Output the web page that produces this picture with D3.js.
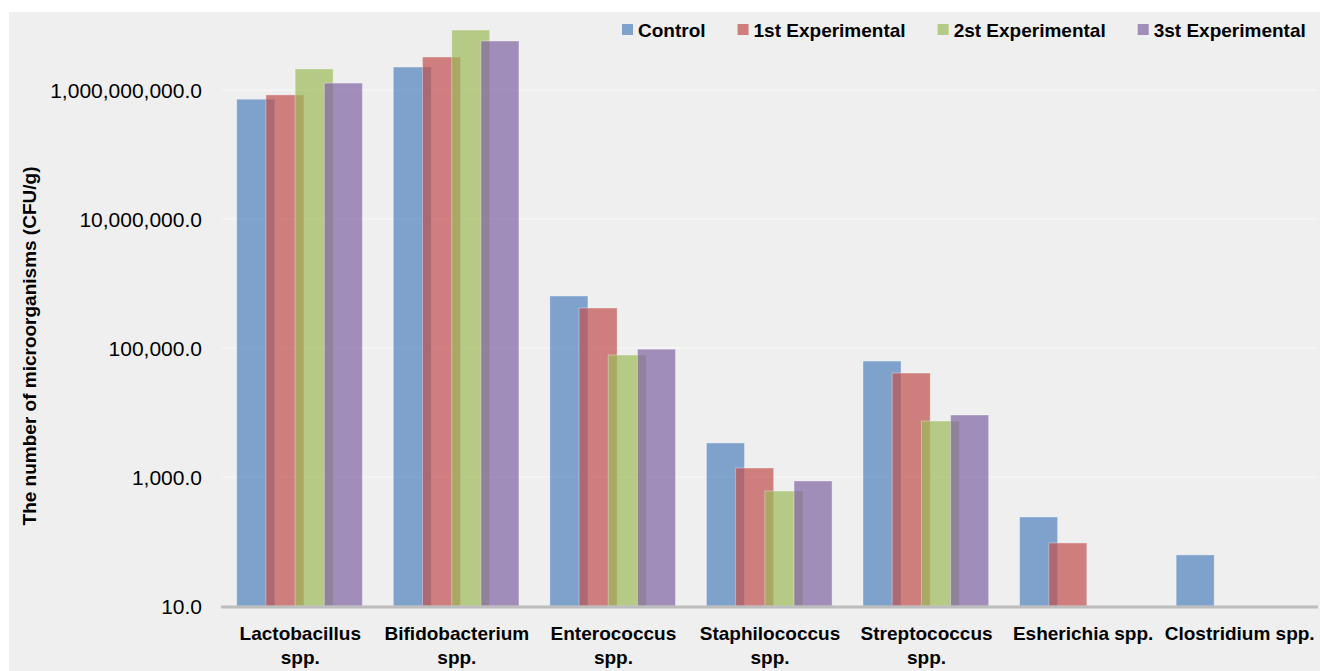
<!DOCTYPE html>
<html>
<head>
<meta charset="utf-8">
<script src="https://cdn.jsdelivr.net/npm/d3@7"></script>
<style>
  body { margin: 0; background: #fff; }
  text { font-family: 'Liberation Sans', Arial, sans-serif; fill: #000; }
</style>
</head>
<body>
<script>
// data (CFU/g, log scale)
let categories = ['Lactobacillus spp.', 'Bifidobacterium spp.', 'Enterococcus spp.',
  'Staphilococcus spp.', 'Streptococcus spp.', 'Esherichia spp.', 'Clostridium spp.'];
let labelLines = [['Lactobacillus', 'spp.'], ['Bifidobacterium', 'spp.'], ['Enterococcus', 'spp.'],
  ['Staphilococcus', 'spp.'], ['Streptococcus', 'spp.'], ['Esherichia spp.'], ['Clostridium spp.']];
let seriesNames = ['Control', '1st Experimental', '2st Experimental', '3st Experimental'];
let control = [7.2e8, 2.27e9, 640000, 3370, 62800, 240, 62];
let exp1 = [8.4e8, 3.25e9, 417000, 1380, 40900, 95, null];
let exp2 = [2.12e9, 8.5e9, 77900, 607, 7380, null, null];
let exp3 = [1.28e9, 5.75e9, 96000, 867, 9150, null, null];
let yTicks = [10, 1e3, 1e5, 1e7, 1e9];

let series = [control, exp1, exp2, exp3];
let colors = ['#4F81BD', '#C0504D', '#9BBB59', '#8064A2'];

let dim = { width: 1320, height: 671 };
let svg = d3.select('body').append('svg').attr('width', dim.width).attr('height', dim.height);

svg.append('rect')
  .attr('x', 9).attr('y', 12)
  .attr('width', dim.width - 9).attr('height', dim.height - 12)
  .attr('fill', '#efefef');

let plot = { left: 222, right: 1318, top: 90, bottom: 606 };

let scaleX = d3.scaleBand().domain(categories).range([plot.left, plot.right]);
let bw = scaleX.bandwidth();
let scaleInner = d3.scaleLinear().domain([0, 3]).range([bw * 0.094, bw * 0.094 + 3 * bw * 0.1865]);
let barW = bw * 0.243;
let scaleY = d3.scaleLog().domain([10, 1e9]).range([plot.bottom, plot.top]);

// grid
svg.append('g').selectAll('line').data(yTicks.slice(1)).enter().append('line')
  .attr('x1', plot.left).attr('x2', plot.right)
  .attr('y1', d => scaleY(d)).attr('y2', d => scaleY(d))
  .attr('stroke', '#f6f6f6').attr('stroke-width', 1.5);

// y tick labels
svg.append('g').selectAll('text').data(yTicks).enter().append('text')
  .attr('x', 202).attr('y', d => scaleY(d))
  .attr('dy', '0.36em')
  .attr('text-anchor', 'end')
  .style('font-size', '21px')
  .text(d => d3.format(',.1f')(d));

// bars
series.forEach((vals, si) => {
  let rows = categories.map((c, i) => ({ c: c, v: vals[i] })).filter(d => d.v != null);
  svg.append('g').selectAll('rect').data(rows).enter().append('rect')
    .attr('x', d => scaleX(d.c) + scaleInner(si))
    .attr('width', barW)
    .attr('y', d => scaleY(d.v))
    .attr('height', d => plot.bottom - scaleY(d.v))
    .attr('fill', colors[si])
    .attr('fill-opacity', 0.7)
    .attr('stroke', '#ffffff')
    .attr('stroke-opacity', 0.35)
    .attr('stroke-width', 1);
});

// base line
svg.append('line')
  .attr('x1', plot.left - 1).attr('x2', plot.right)
  .attr('y1', plot.bottom + 1).attr('y2', plot.bottom + 1)
  .attr('stroke', '#bdbdbd').attr('stroke-width', 3);

// category labels
let cat = svg.append('g').selectAll('text').data(categories).enter().append('text')
  .attr('text-anchor', 'middle')
  .style('font-size', '19px').style('font-weight', 'bold');
cat.each(function (d, i) {
  let t = d3.select(this);
  labelLines[i].forEach((line, k) => {
    t.append('tspan')
      .attr('x', scaleX(d) + bw / 2)
      .attr('y', 640 + k * 24)
      .text(line);
  });
});

// y axis title
svg.append('text')
  .attr('transform', 'translate(36,346) rotate(-90)')
  .attr('text-anchor', 'middle')
  .style('font-size', '19px').style('font-weight', 'bold')
  .text('The number of microorganisms (CFU/g)');

// legend
let lx = 622;
seriesNames.forEach((name, i) => {
  let g = svg.append('g');
  g.append('rect')
    .attr('x', lx).attr('y', 24).attr('width', 11).attr('height', 11)
    .attr('fill', colors[i]).attr('fill-opacity', 0.7);
  let t = g.append('text')
    .attr('x', lx + 16).attr('y', 37)
    .style('font-size', '19px').style('font-weight', 'bold')
    .text(name);
  lx += 16 + t.node().getComputedTextLength() + 32;
});
</script>
</body>
</html>
